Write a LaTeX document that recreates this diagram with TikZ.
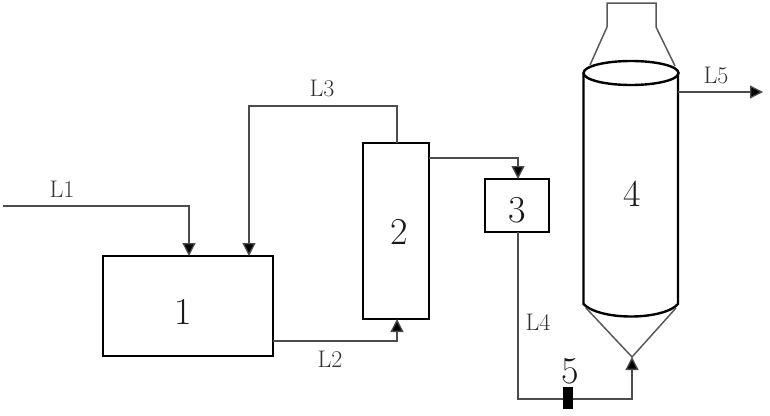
\documentclass[tikz,border=0pt]{standalone}
\usetikzlibrary{arrows.meta}
\tikzset{
  x=1pt,y=-1pt,
  unit/.style={draw=black,line width=2.3pt,fill=none,inner sep=0pt,outer sep=0pt,font=\fontsize{36}{36}\selectfont},
  conn/.style={draw=black!70,line width=1.3pt},
  flow/.style={conn,-{Triangle[length=13pt,width=13pt,fill=black]}},
  shell/.style={draw=black,line width=2.4pt},
  thin shell/.style={draw=black!65,line width=1.5pt},
  tag/.style={inner sep=0pt,font=\fontsize{24}{24}\selectfont,text=black!80},
  num/.style={inner sep=0pt,font=\fontsize{38}{38}\selectfont,text=black!90}
}
\begin{document}
\begin{tikzpicture}
\useasboundingbox (0,0) rectangle (770,415);
% units
\node[unit,minimum width=170pt,minimum height=100pt] (box1) at (188,306) {};
\node[num] at (183.5,312) {1};
\node[unit,minimum width=66pt,minimum height=176pt] (box2) at (396,231) {};
\node[num] at (399,232) {2};
\node[unit,minimum width=64pt,minimum height=53pt] (box3) at (517,205.5) {};
\node[num] at (517,210) {3};
% vessel 4
\coordinate (topL) at (607,27);
\coordinate (topR) at (656,27);
\draw[thin shell] (590,65) -- (topL) -- (607,3) -- (656,3) -- (topR) -- (675,66);
\draw[shell] (583.5,73) -- (583.5,304) .. controls (590,311) and (608,316.5) .. (631,316.5) .. controls (654,316.5) and (672,311) .. (678,304) -- (678,73);
\draw[shell] (631,73) ellipse [x radius=47.5pt,y radius=12pt];
\coordinate (apex) at (632,357);
\draw[thin shell] (586,308) -- (apex) -- (676,308);
\node[num] at (632,194) {4};
% free ends and bends
\coordinate (in1) at (3,206);
\coordinate (out5) at (763,92);
\coordinate (b1) at (189,206);
\coordinate (b2) at (397,341);
\coordinate (b3a) at (397,106);
\coordinate (b3b) at (249,106);
\coordinate (b4) at (518,158);
\coordinate (b5) at (518,399);
\coordinate (b6) at (632,399);
% connectors
\draw[flow] (in1) -- (b1) -- (b1 |- box1.north);
\draw[flow] (box1.east |- b2) -- (b2) -- (b2 |- box2.south);
\draw[flow] (b3a |- box2.north) -- (b3a) -- (b3b) -- (b3b |- box1.north);
\draw[flow] (box2.east |- b4) -- (b4) -- (b4 |- box3.north);
\draw[flow] (b5 |- box3.south) -- (b5) -- (b6) -- (apex);
\draw[flow] (678,92) -- (out5);
% pump 5
\node[fill=black,minimum width=10pt,minimum height=22pt,inner sep=0pt] (pump) at (568,398) {};
\node[num] at (570,371) {5};
% labels
\node[tag] at (62,189) {L1};
\node[tag] at (330,359) {L2};
\node[tag] at (322,88) {L3};
\node[tag] at (538,322) {L4};
\node[tag] at (716,75) {L5};
\end{tikzpicture}
\end{document}
